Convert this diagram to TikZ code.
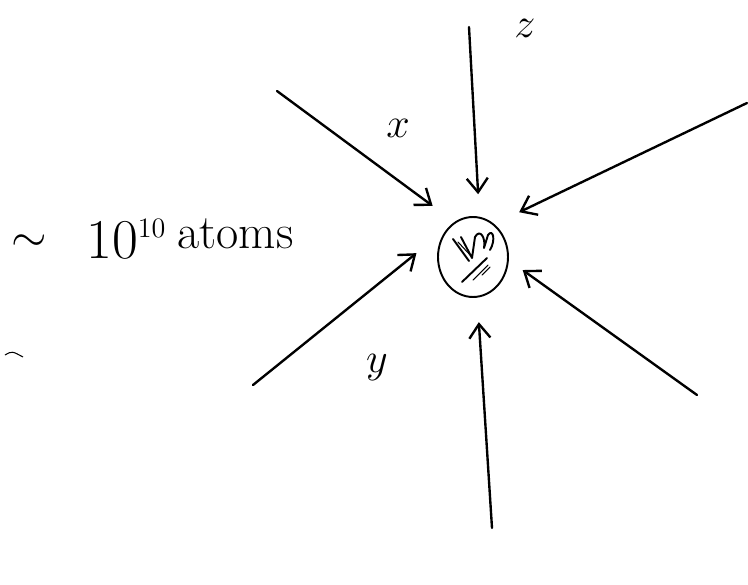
\RequirePackage{fix-cm}
\documentclass[tikz,border=0pt]{standalone}
\usetikzlibrary{arrows.meta,calc,shapes.geometric}
\tikzset{
    inflow/.style={-{Straight Barb[length=8pt, width=12pt]},
                   line width=1.35pt, line cap=round},
    ball/.style={ellipse, draw, line width=1.1pt, inner sep=0pt,
                 minimum width=1.4cm, minimum height=1.6cm},
    scribble/.style={line width=1.1pt, line cap=round, line join=round},
    axislabel/.style={font=\fontsize{24}{28}\selectfont, inner sep=0pt},
    countlabel/.style={font=\fontsize{27.5}{32}\selectfont, inner sep=0pt},
}

\begin{document}
\begin{tikzpicture}[x=0.02cm, y=-0.02cm]

    \useasboundingbox (0,0) rectangle (748,585);

    \node[ball] (ball) at (473,257) {};

    % hatching inside the ball
    \draw[scribble] (453,239) -- (469,261);
    \draw[scribble, line width=0.6pt] (458,242) -- (472,257);
    \draw[scribble] (461,237) -- (472,258) -- (475,237)
        .. controls (480,228) and (486,238) .. (484,248)
        -- (488,235) .. controls (493,228) and (496,240) .. (490,250);
    \draw[scribble] (462,282) -- (487,258);
    \draw[scribble, line width=0.6pt] (473,280) -- (488,265);
    \draw[scribble, line width=0.6pt] (482,275) -- (490,267);

    \coordinate (zstart) at (469,27);
    \coordinate (xstart) at (277,91);
    \coordinate (nestart) at (747,103);
    \coordinate (sestart) at (697,395);
    \coordinate (swstart) at (253,385);
    \coordinate (sstart) at (492,528);

    \draw[inflow, shorten >=0.45cm] (zstart) -- (ball.81);
    \draw[inflow, shorten >=0.54cm] (xstart) -- (ball.118);
    \draw[inflow, shorten >=0.55cm] (nestart) -- (ball.57);
    \draw[inflow, shorten >=0.34cm] (sestart) -- (ball.-5);
    \draw[inflow, shorten >=0.8cm] (swstart) -- (ball.north west);
    \draw[inflow, shorten >=0.49cm] (sstart) -- (ball.-84);

    \node[axislabel] (zlabel) at (525,28) {$z$};
    \node[axislabel] (xlabel) at (398,128) {$x$};
    \node[axislabel] (ylabel) at (377,368) {$y$};

    % the count, set in three pieces to follow the hand spacing
    \node[countlabel, font=\fontsize{26}{30}\selectfont] (tilde) at (29,243)
        {$\sim$};
    \node[countlabel, font=\fontsize{32}{36}\selectfont, anchor=base west]
        (power) at (86,258) {$10^{\scriptscriptstyle 10}$};
    \node[countlabel, anchor=base west] (atoms) at (177,248) {atoms};

    % stray pen mark
    \draw[line width=0.6pt] (5,355) .. controls (12,351) .. (23,357);

\end{tikzpicture}
\end{document}
